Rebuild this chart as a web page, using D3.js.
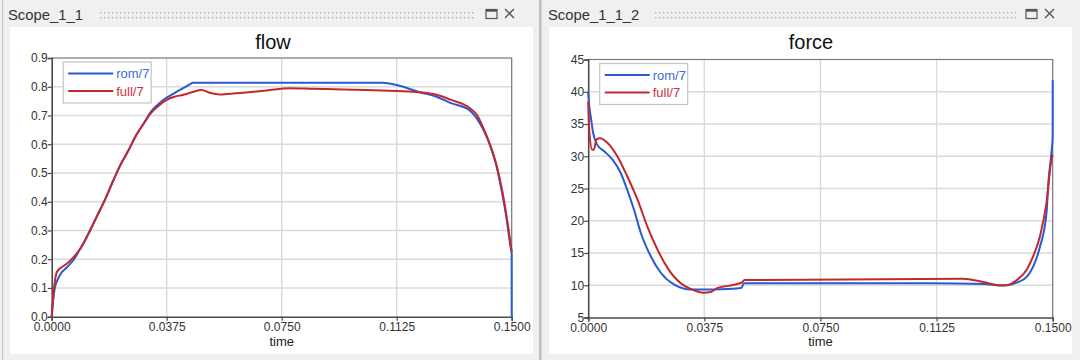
<!DOCTYPE html>
<html><head><meta charset="utf-8">
<script src="https://cdn.jsdelivr.net/npm/d3@7"></script>
<style>
html,body{margin:0;padding:0;background:#f0f0f0;}
svg{display:block;font-family:"Liberation Sans",Arial,sans-serif;}
</style></head>
<body>
<svg id="c" width="1080" height="360"></svg>
<script>
// ---- data ----
const timeTicks = [0, 0.0375, 0.075, 0.1125, 0.15];
const flowTicks = [0, 0.1, 0.2, 0.3, 0.4, 0.5, 0.6, 0.7, 0.8, 0.9];
const forceTicks = [5, 10, 15, 20, 25, 30, 35, 40, 45];
const seriesNames = ["rom/7", "full/7"];
const panelTitles = ["Scope_1_1", "Scope_1_1_2"];
const chartTitles = ["flow", "force"];

const flowRom = [[0,0],[0.0005,0.06],[0.001,0.10],[0.002,0.13],[0.003,0.15],[0.005,0.172],[0.0073,0.20],[0.0095,0.24],[0.0125,0.30],[0.015,0.355],[0.0175,0.41],[0.020,0.472],[0.0225,0.53],[0.025,0.578],[0.0275,0.63],[0.030,0.672],[0.0325,0.715],[0.035,0.742],[0.0375,0.762],[0.040,0.778],[0.0425,0.793],[0.045,0.808],[0.0461,0.814],[0.108,0.814],[0.1125,0.806],[0.120,0.781],[0.1255,0.765],[0.130,0.744],[0.1364,0.717],[0.1386,0.69],[0.1408,0.65],[0.1429,0.597],[0.1451,0.522],[0.1467,0.44],[0.1484,0.336],[0.1495,0.25],[0.14999,0.22],[0.15,0]];
const flowFull = [[0,0],[0.0005,0.07],[0.001,0.12],[0.0015,0.15],[0.0022,0.163],[0.0033,0.172],[0.005,0.185],[0.0065,0.20],[0.0085,0.225],[0.010,0.248],[0.0125,0.30],[0.015,0.355],[0.0175,0.41],[0.020,0.472],[0.0225,0.53],[0.025,0.578],[0.0275,0.63],[0.030,0.672],[0.0325,0.71],[0.035,0.735],[0.0375,0.754],[0.040,0.765],[0.043,0.772],[0.046,0.782],[0.0489,0.789],[0.0515,0.779],[0.0549,0.773],[0.060,0.777],[0.065,0.782],[0.070,0.787],[0.0777,0.795],[0.085,0.793],[0.095,0.79],[0.105,0.788],[0.1125,0.785],[0.120,0.781],[0.1255,0.772],[0.130,0.755],[0.1364,0.725],[0.1386,0.703],[0.1408,0.655],[0.1429,0.60],[0.1451,0.525],[0.1467,0.45],[0.1484,0.345],[0.15,0.226]];

const forceRom = [[0,39.8],[0.0004,37.5],[0.0008,36.2],[0.0016,33.6],[0.0029,31.8],[0.0051,30.8],[0.0078,29.5],[0.0105,27.4],[0.0126,24.8],[0.0148,21.7],[0.017,18.1],[0.0202,14.5],[0.0235,11.9],[0.0278,10.1],[0.0332,9.35],[0.0408,9.35],[0.045,9.4],[0.0495,9.6],[0.0502,10.3],[0.11,10.3],[0.128,10.2],[0.133,9.95],[0.1351,10.0],[0.1384,10.4],[0.1416,11.3],[0.1437,12.9],[0.1459,16.0],[0.148,21.2],[0.1486,25.9],[0.1496,30.6],[0.14999,33],[0.15,41.8]];
const forceFull = [[0,38.5],[0.0004,33.6],[0.0013,31.0],[0.0018,31.0],[0.0027,32.6],[0.0038,32.8],[0.0062,32.1],[0.0094,30.0],[0.0126,26.9],[0.0159,23.3],[0.0191,19.1],[0.0224,15.5],[0.0256,12.7],[0.0299,10.3],[0.0343,9.2],[0.0372,8.85],[0.0395,8.95],[0.0418,9.6],[0.045,9.9],[0.0495,10.4],[0.0505,10.8],[0.121,11.0],[0.1276,10.5],[0.133,10.0],[0.1351,10.0],[0.1384,10.8],[0.1416,12.4],[0.1437,14.5],[0.1459,17.6],[0.148,22.8],[0.1496,29.5],[0.15,30.2]];

// ---- drawing ----
const svg = d3.select("#c");
const colors = ["#2a5ad0", "#c3282c"];
const textColors = ["#4468d6", "#cc3338"];

svg.append("rect").attr("x",2).attr("y",0).attr("width",1.2).attr("height",360).attr("fill","#c8c8c8");
svg.append("rect").attr("x",539).attr("y",0).attr("width",2.5).attr("height",360).attr("fill","#bdbdbd");

const panels = [
  {ox:0, white:[10,27,523,327], plot:[51.7,58,511.7,316.7], title:panelTitles[0], chart:chartTitles[0],
   ticks:flowTicks, ydom:[0,0.9], fmt:d3.format(".1f"), data:[flowRom, flowFull], dots:[100,475], titleX:273},
  {ox:540, white:[549,27,523,327], plot:[588.2,59.5,1052.7,317.5], title:panelTitles[1], chart:chartTitles[1],
   ticks:forceTicks, ydom:[5,45], fmt:d3.format("d"), data:[forceRom, forceFull], dots:[655,1017], titleX:811}
];

panels.forEach(p => {
  const g = svg.append("g");
  g.append("text").attr("x", p.ox+8).attr("y", 20).attr("font-size", 14.8).attr("fill","#333").text(p.title);
  for (let x = p.dots[0]; x <= p.dots[1]; x += 4) {
    [12, 17].forEach(y => g.append("rect").attr("x", x).attr("y", y).attr("width",1.3).attr("height",1.3).attr("fill","#a8a8a8"));
  }
  const iconX = p.ox + 486;
  g.append("rect").attr("x", iconX).attr("y", 9.5).attr("width", 11).attr("height", 9).attr("fill","none").attr("stroke","#555").attr("stroke-width",1.2);
  g.append("rect").attr("x", iconX).attr("y", 9.5).attr("width", 11).attr("height", 2.2).attr("fill","#555");
  g.append("path").attr("d", `M${iconX+19},9 l9,9 M${iconX+28},9 l-9,9`).attr("stroke","#555").attr("stroke-width",1.4);
  g.append("rect").attr("x", p.white[0]).attr("y", p.white[1]).attr("width", p.white[2]).attr("height", p.white[3]).attr("fill","#fff");
  g.append("text").attr("x", p.titleX).attr("y", 49).attr("text-anchor","middle").attr("font-size",20).attr("fill","#111").text(p.chart);

  const [x0,y0,x1,y1] = p.plot;
  const x = d3.scaleLinear().domain([0,0.15]).range([x0,x1]);
  const y = d3.scaleLinear().domain(p.ydom).range([y1,y0]);

  g.append("g").selectAll("line").data(p.ticks.slice(1)).join("line")
    .attr("x1",x0).attr("x2",x1).attr("y1",d=>y(d)).attr("y2",d=>y(d)).attr("stroke","#dadada").attr("stroke-width",1.4);
  g.append("g").selectAll("line").data(timeTicks.slice(1,-1)).join("line")
    .attr("y1",y0).attr("y2",y1).attr("x1",d=>x(d)).attr("x2",d=>x(d)).attr("stroke","#dadada").attr("stroke-width",1.4);
  g.append("path").attr("d",`M${x0},${y0}H${x1}V${y1}`).attr("fill","none").attr("stroke","#777").attr("stroke-width",1.2);

  const xa = g.append("g").attr("transform",`translate(0,${y1})`)
    .call(d3.axisBottom(x).tickValues(timeTicks).tickFormat(d3.format(".4f")).tickSize(4).tickPadding(2));
  const ya = g.append("g").attr("transform",`translate(${x0},0)`)
    .call(d3.axisLeft(y).tickValues(p.ticks).tickFormat(p.fmt).tickSize(4).tickPadding(0));
  [xa, ya].forEach(a => {
    a.select(".domain").attr("stroke","#4a4a4a").attr("stroke-width",1.6);
    a.selectAll(".tick line").attr("stroke","#4a4a4a").attr("stroke-width",1.2);
    a.selectAll("text").attr("font-size",12).attr("fill","#333").attr("font-family","Liberation Sans, Arial, sans-serif");
  });
  g.append("text").attr("x",(x0+x1)/2).attr("y",346).attr("text-anchor","middle").attr("font-size",13).attr("fill","#222").text("time");

  const line = d3.line().curve(d3.curveMonotoneX).x(d=>x(d[0])).y(d=>y(d[1]));
  p.data.forEach((s,i) => {
    g.append("path").datum(s).attr("d", line).attr("fill","none").attr("stroke",colors[i]).attr("stroke-width",2).attr("stroke-linejoin","round");
  });
  const lx = x0 + 11.5, ly = y0 + 4;
  const lg = g.append("g").attr("transform",`translate(${lx},${ly})`);
  lg.append("rect").attr("width",88).attr("height",41).attr("fill","#fff").attr("stroke","#c4c4c4").attr("stroke-width",1.2);
  seriesNames.forEach((n,i) => {
    const yy = 11.5 + i*17.5;
    lg.append("line").attr("x1",5).attr("x2",50).attr("y1",yy).attr("y2",yy).attr("stroke",colors[i]).attr("stroke-width",2);
    lg.append("text").attr("x",53).attr("y",yy+4.5).attr("font-size",13).attr("fill",textColors[i]).text(n);
  });
});
</script>
</body></html>
